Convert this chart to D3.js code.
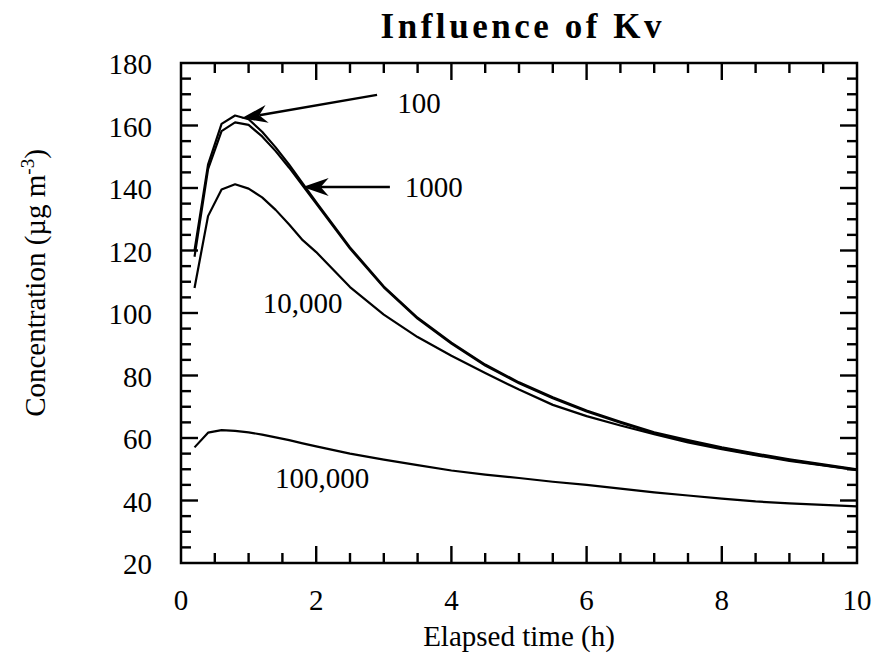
<!DOCTYPE html>
<html>
<head>
<meta charset="utf-8">
<script src="https://cdn.jsdelivr.net/npm/d3@7"></script>
<style>
  body { margin: 0; background: #fff; }
</style>
</head>
<body>
<div id="chart"></div>
<script>
// Elapsed time (h) shared by all curves
const timeH = [0.2, 0.4, 0.6, 0.8, 1.0, 1.2, 1.4, 1.6, 1.8, 2.0, 2.5, 3.0, 3.5, 4.0, 4.5,
               5.0, 5.5, 6.0, 6.5, 7.0, 7.5, 8.0, 8.5, 9.0, 9.5, 10];

// Concentration (ug m-3) for each Kv value
const kv100 = [120, 147.5, 160.5, 163.2, 162, 158, 153, 147.5, 141.5, 135.5, 121, 108.5, 98.5, 90.5, 83.5,
               77.8, 73, 68.8, 65.2, 61.8, 59.3, 57, 55, 53.2, 51.6, 50];
const kv1000 = [118, 146, 158.2, 161, 160.2, 156.5, 151.8, 146.5, 140.8, 135, 120.6, 108.2, 98.2, 90.2, 83.2,
                77.5, 72.7, 68.5, 64.9, 61.5, 58.9, 56.7, 54.7, 52.9, 51.3, 49.8];
const kv10000 = [108, 131, 139.5, 141.2, 139.8, 137, 133, 128.3, 123.3, 119.5, 108.3, 99.5, 92.3, 86.3, 80.8,
                 75.5, 70.6, 67, 64, 61.2, 58.6, 56.4, 54.5, 52.7, 51.2, 49.7];
const kv100000 = [57, 61.7, 62.5, 62.3, 61.8, 61.1, 60.2, 59.3, 58.3, 57.3, 55, 53.1, 51.3, 49.6, 48.3,
                  47.2, 46, 45, 43.8, 42.6, 41.6, 40.6, 39.7, 39.1, 38.6, 38.1];

const xTicks = [0, 2, 4, 6, 8, 10];
const yTicks = [20, 40, 60, 80, 100, 120, 140, 160, 180];

// curve labels (data coords of text start / baseline)
const labelText = ['100', '1000', '10,000', '100,000'];
const labelT = [3.2, 3.31, 1.21, 1.39];
const labelC = [164, 137.1, 100, 44];

// arrows: tail -> tip, data coords
const arrowFrom = [[2.9, 169.8], [3.09, 140.3]];
const arrowTo = [[0.895, 162.3], [1.8, 140.3]];

const FONT = 'Liberation Serif';
const W = 877, H = 667;
const margin = { top: 63, right: 20, bottom: 104, left: 181 };
const plotW = W - margin.left - margin.right;
const plotH = H - margin.top - margin.bottom;

const svg = d3.select('#chart').append('svg')
    .attr('width', W)
    .attr('height', H)
    .attr('font-family', FONT);

// absolute-coordinate scales (no group transform)
const x = d3.scaleLinear().domain([0, 10]).range([margin.left, margin.left + plotW]);
const y = d3.scaleLinear().domain([20, 180]).range([margin.top + plotH, margin.top]);
const x0p = x(0), x1p = x(10), y0p = y(20), y1p = y(180);

// inward ticks on all four sides, drawn as small filled rects
const majorLen = 17, minorLen = 10, tw = 2.4;
const xAll = d3.range(1, 20).map(k => k / 2);
const yAll = d3.range(1, 32).map(k => 20 + k * 5);
const xLen = v => (v % 2 === 0 ? majorLen : minorLen);
const yLen = v => (v % 20 === 0 ? majorLen : minorLen);

svg.selectAll('.tb').data(xAll).join('rect')
    .attr('class', 'tb')
    .attr('x', d => x(d) - tw / 2).attr('width', tw)
    .attr('y', d => y0p - xLen(d)).attr('height', d => xLen(d))
    .attr('fill', '#000');
svg.selectAll('.tt').data(xAll).join('rect')
    .attr('class', 'tt')
    .attr('x', d => x(d) - tw / 2).attr('width', tw)
    .attr('y', y1p).attr('height', d => xLen(d))
    .attr('fill', '#000');
svg.selectAll('.tl').data(yAll).join('rect')
    .attr('class', 'tl')
    .attr('y', d => y(d) - tw / 2).attr('height', tw)
    .attr('x', x0p).attr('width', d => yLen(d))
    .attr('fill', '#000');
svg.selectAll('.tr').data(yAll).join('rect')
    .attr('class', 'tr')
    .attr('y', d => y(d) - tw / 2).attr('height', tw)
    .attr('x', d => x1p - yLen(d)).attr('width', d => yLen(d))
    .attr('fill', '#000');

// frame
svg.append('rect')
    .attr('x', x0p).attr('y', y1p)
    .attr('width', x1p - x0p).attr('height', y0p - y1p)
    .attr('fill', 'none')
    .attr('stroke', '#000')
    .attr('stroke-width', 2.5);

// tick labels
svg.selectAll('.xlab').data(xTicks).join('text')
    .attr('class', 'xlab')
    .attr('x', d => x(d))
    .attr('y', y0p + 47)
    .attr('text-anchor', 'middle')
    .attr('font-size', 29)
    .text(d => d);

svg.selectAll('.ylab').data(yTicks).join('text')
    .attr('class', 'ylab')
    .attr('x', x0p - 29)
    .attr('y', d => y(d) + 11)
    .attr('text-anchor', 'end')
    .attr('font-size', 29)
    .text(d => d);

// axis titles
svg.append('text')
    .attr('x', (x0p + x1p) / 2)
    .attr('y', y0p + 83)
    .attr('text-anchor', 'middle')
    .attr('font-size', 29)
    .text('Elapsed time (h)');

const yLab = svg.append('text')
    .attr('text-anchor', 'middle')
    .attr('font-size', 29)
    .attr('transform', 'translate(45,283) rotate(-90)');
yLab.append('tspan').text('Concentration (\u00b5g m');
yLab.append('tspan').attr('font-size', 19).attr('dy', -11).text('-3');
yLab.append('tspan').attr('dy', 11).text(')');

// chart title
svg.append('text')
    .attr('x', 521)
    .attr('y', 38)
    .attr('text-anchor', 'middle')
    .attr('font-size', 35)
    .attr('font-weight', 'bold')
    .attr('textLength', 281)
    .attr('lengthAdjust', 'spacing')
    .text('Influence  of  Kv');

// curves
const line = d3.line()
    .x((d, i) => x(timeH[i]))
    .y(d => y(d));

[kv100, kv1000, kv10000, kv100000].forEach(series => {
    svg.append('path')
        .datum(series)
        .attr('fill', 'none')
        .attr('stroke', '#000')
        .attr('stroke-width', 2.2)
        .attr('stroke-linejoin', 'round')
        .attr('d', line);
});

// curve labels
labelText.forEach((t, i) => {
    svg.append('text')
        .attr('x', x(labelT[i]))
        .attr('y', y(labelC[i]))
        .attr('font-size', 29)
        .text(t);
});

// arrows with barbed heads
arrowFrom.forEach((p, i) => {
    const ax = x(p[0]), ay = y(p[1]);
    const bx1 = x(arrowTo[i][0]), by1 = y(arrowTo[i][1]);
    const a = Math.atan2(by1 - ay, bx1 - ax);
    const ux = Math.cos(a), uy = Math.sin(a);
    const px = -uy, py = ux;
    const headLen = 26, halfW = 9, notch = 18;
    const nx = bx1 - ux * notch, ny = by1 - uy * notch;
    svg.append('line')
        .attr('x1', ax).attr('y1', ay)
        .attr('x2', nx).attr('y2', ny)
        .attr('stroke', '#000')
        .attr('stroke-width', 2.5);
    const head = [
        [bx1, by1],
        [bx1 - ux * headLen + px * halfW, by1 - uy * headLen + py * halfW],
        [nx, ny],
        [bx1 - ux * headLen - px * halfW, by1 - uy * headLen - py * halfW]
    ];
    svg.append('path')
        .attr('d', 'M' + head.map(q => q.join(',')).join('L') + 'Z')
        .attr('fill', '#000');
});
</script>
</body>
</html>
